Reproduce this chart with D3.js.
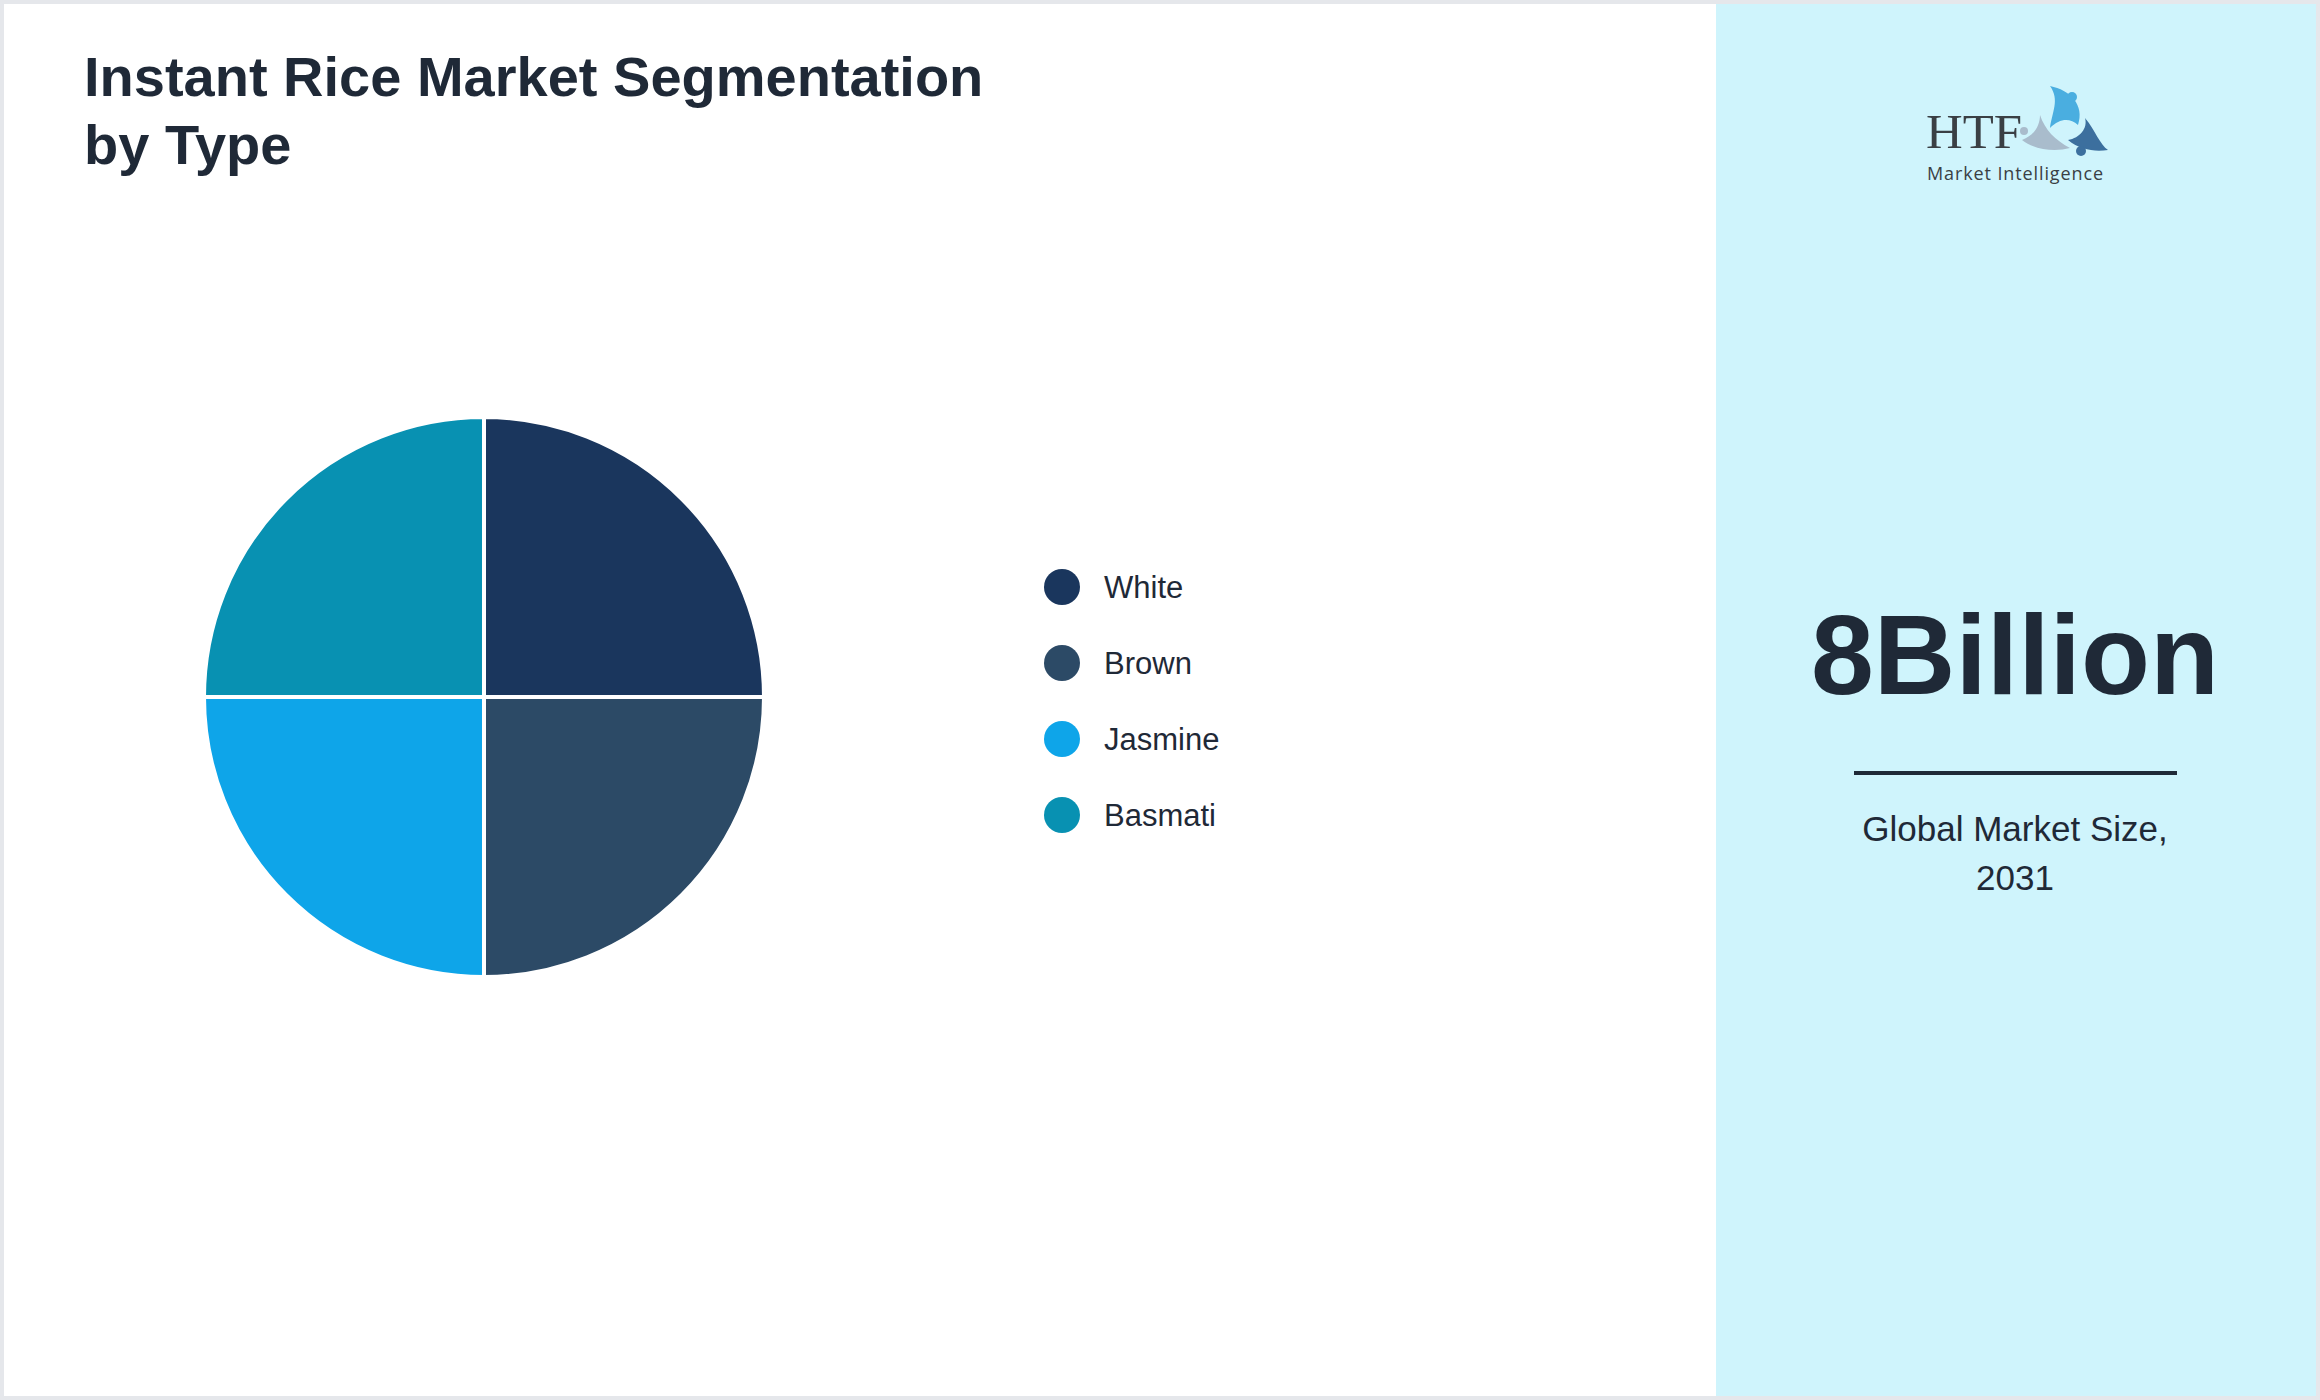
<!DOCTYPE html>
<html><head><meta charset="utf-8">
<script src="https://cdn.jsdelivr.net/npm/d3@7"></script>
<style>body{margin:0;background:#fff}svg{display:block}</style>
</head><body>
<svg id="c" width="2320" height="1400"></svg>
<script>
const categories = ["White","Brown","Jasmine","Basmati"];
const values = [25,25,25,25];
const colors = ["#1a365d","#2c4a66","#0ea5e9","#0891b2"];
const bigValue = "8Billion";
const subLabel = ["Global Market Size,","2031"];

const svg = d3.select("#c");
const F = "Liberation Sans, Arial, sans-serif";
svg.append("rect").attr("x",0).attr("y",0).attr("width",2320).attr("height",1400).attr("fill","#fff");
svg.append("rect").attr("x",1716).attr("y",0).attr("width",604).attr("height",1400).attr("fill","#cff4fc");
svg.append("rect").attr("x",2).attr("y",2).attr("width",2316).attr("height",1396).attr("fill","none").attr("stroke","#e5e7eb").attr("stroke-width",4);

svg.append("text").attr("x",84).attr("y",96).attr("font-family",F).attr("font-weight","bold").attr("font-size",56).attr("fill","#1f2937").text("Instant Rice Market Segmentation");
svg.append("text").attr("x",84).attr("y",164).attr("font-family",F).attr("font-weight","bold").attr("font-size",56).attr("fill","#1f2937").text("by Type");

const pie = d3.pie().sort(null).value(d=>d)(values);
const arc = d3.arc().innerRadius(0).outerRadius(280);
const g = svg.append("g").attr("transform","translate(484,697)");
g.selectAll("path").data(pie).join("path").attr("d",arc).attr("fill",(d,i)=>colors[i]).attr("stroke","#fff").attr("stroke-width",4);

const y = d3.scalePoint().domain(categories).range([587,815]);
const lg = svg.append("g");
categories.forEach((c,i)=>{
  lg.append("circle").attr("cx",1062).attr("cy",y(c)).attr("r",18).attr("fill",colors[i]);
  lg.append("text").attr("x",1104).attr("y",y(c)).attr("dy","0.35em").attr("font-family",F).attr("font-size",31).attr("fill","#1f2937").text(c);
});

svg.append("text").attr("x",2015).attr("y",694).attr("text-anchor","middle").attr("font-family",F).attr("font-weight","bold").attr("font-size",113).attr("fill","#1f2937").text(bigValue);
svg.append("line").attr("x1",1854).attr("x2",2177).attr("y1",773).attr("y2",773).attr("stroke","#1f2937").attr("stroke-width",4);
subLabel.forEach((t,i)=>svg.append("text").attr("x",2015).attr("y",841+i*49).attr("text-anchor","middle").attr("font-family",F).attr("font-size",35).attr("fill","#1f2937").text(t));

// logo
const lo = svg.append("g");
lo.append("text").attr("x",1926).attr("y",148).attr("font-family","Liberation Serif, serif").attr("font-size",48).attr("fill","#3a3f44").attr("textLength",96).attr("lengthAdjust","spacingAndGlyphs").text("HTF");
lo.append("text").attr("x",1927).attr("y",180).attr("font-family","Open Sans, sans-serif").attr("font-size",18).attr("fill","#3a3f44").attr("textLength",176).text("Market Intelligence");
lo.append("path").attr("d","M2050,86 C2070,90 2085,105 2078,125 C2070,118 2060,118 2050,128 C2052,112 2060,100 2050,86Z").attr("fill","#4aaee0");
lo.append("path").attr("d","M2085,118 C2095,130 2100,145 2108,150 C2095,152 2080,150 2068,140 C2080,138 2088,128 2085,118Z").attr("fill","#3c6f9e");
lo.append("path").attr("d","M2040,115 C2045,130 2055,140 2070,148 C2055,152 2035,150 2022,140 C2035,135 2040,125 2040,115Z").attr("fill","#a9bccc");
lo.append("circle").attr("cx",2072).attr("cy",97).attr("r",5).attr("fill","#4aaee0");
lo.append("circle").attr("cx",2081).attr("cy",151).attr("r",5).attr("fill","#3c6f9e");
lo.append("circle").attr("cx",2024).attr("cy",131).attr("r",4).attr("fill","#a9bccc");
</script>
</body></html>
